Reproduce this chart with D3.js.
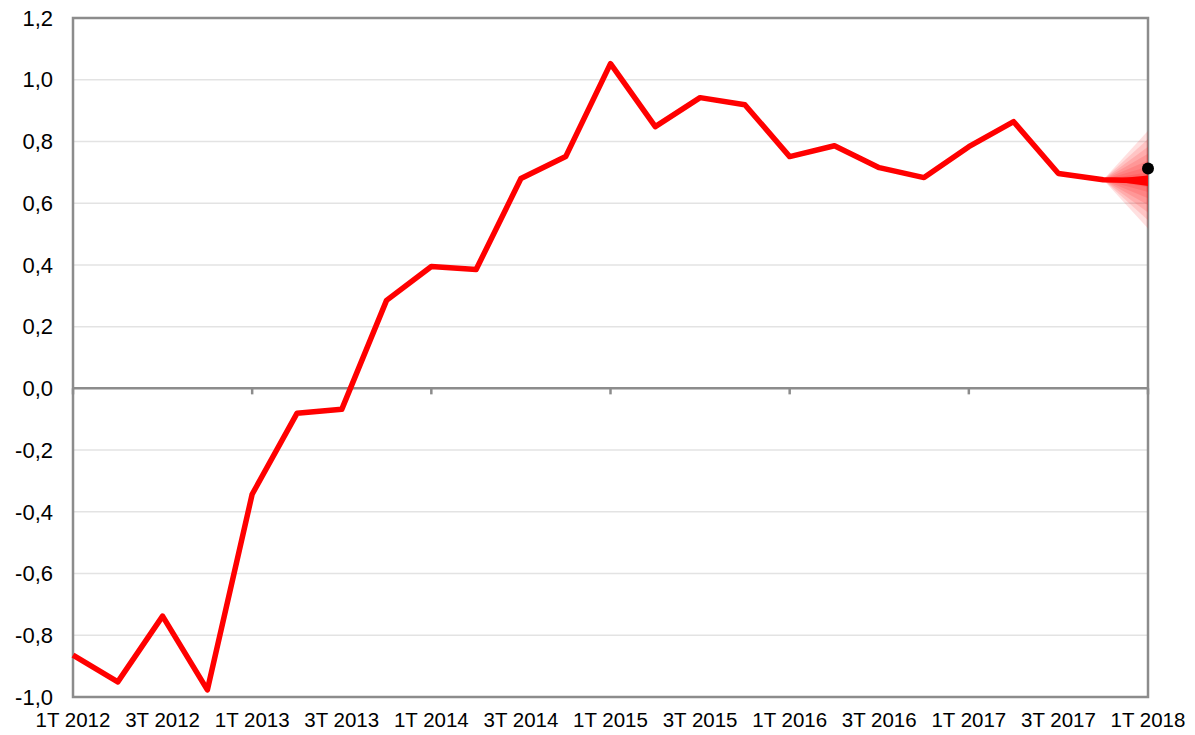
<!DOCTYPE html>
<html>
<head>
<meta charset="utf-8">
<script src="https://cdn.jsdelivr.net/npm/d3@7"></script>
<style>
  body { margin: 0; background: #fff; }
  text { font-family: "Liberation Sans", Arial, sans-serif; font-size: 20.5px; fill: #000; }
  .ylab text { font-size: 22px; }
</style>
</head>
<body>
<div class="my-graph"></div>
<script>
const quarters = ['1T 2012','2T 2012','3T 2012','4T 2012','1T 2013','2T 2013','3T 2013','4T 2013',
  '1T 2014','2T 2014','3T 2014','4T 2014','1T 2015','2T 2015','3T 2015','4T 2015',
  '1T 2016','2T 2016','3T 2016','4T 2016','1T 2017','2T 2017','3T 2017','4T 2017','1T 2018']
const values = [-0.864, -0.951, -0.738, -0.977, -0.343, -0.081, -0.068, 0.285,
  0.395, 0.385, 0.680, 0.751, 1.052, 0.848, 0.942, 0.919,
  0.751, 0.786, 0.715, 0.683, 0.783, 0.864, 0.696, 0.676, 0.673]
const yTicks = [-1.0, -0.8, -0.6, -0.4, -0.2, 0, 0.2, 0.4, 0.6, 0.8, 1.0, 1.2]
const xLabels = ['1T 2012','3T 2012','1T 2013','3T 2013','1T 2014','3T 2014','1T 2015','3T 2015','1T 2016','3T 2016','1T 2017','3T 2017','1T 2018']
// fan bands at the last quarter: [low, high]
const fanLow = [0.518, 0.545, 0.570, 0.594, 0.616, 0.636, 0.652, 0.664]
const fanHigh = [0.835, 0.808, 0.783, 0.760, 0.738, 0.718, 0.700, 0.684]
const centralBand = [0.656, 0.690]
const lastActual = 0.712

const width = 1195, height = 735
const margin = { top: 18, right: 47, bottom: 38, left: 73 }

const x = d3.scalePoint().domain(quarters).range([margin.left, width - margin.right])
const y = d3.scaleLinear().domain([-1.0, 1.2]).range([height - margin.bottom, margin.top])

const svg = d3.select('.my-graph').append('svg')
  .attr('width', width).attr('height', height)

// gridlines
svg.append('g').selectAll('line')
  .data(yTicks.filter(d => d !== 0 && d !== -1.0 && d !== 1.2))
  .enter().append('line')
  .attr('x1', margin.left).attr('x2', width - margin.right)
  .attr('y1', d => y(d)).attr('y2', d => y(d))
  .attr('stroke', '#e3e3e3').attr('stroke-width', 1.5)

// box
svg.append('rect')
  .attr('x', margin.left).attr('y', y(1.2))
  .attr('width', x(quarters[24]) - margin.left).attr('height', y(-1.0) - y(1.2))
  .attr('fill', 'none').attr('stroke', '#8c8c8c').attr('stroke-width', 2.5)

// zero axis with ticks
svg.append('line')
  .attr('x1', margin.left).attr('x2', width - margin.right)
  .attr('y1', y(0)).attr('y2', y(0))
  .attr('stroke', '#8c8c8c').attr('stroke-width', 2.5)
svg.append('g').selectAll('line')
  .data(quarters.filter((d, i) => i % 4 === 0))
  .enter().append('line')
  .attr('x1', d => x(d)).attr('x2', d => x(d))
  .attr('y1', y(0)).attr('y2', y(0) + 6)
  .attr('stroke', '#8c8c8c').attr('stroke-width', 2.5)

// y labels
svg.append('g').attr('class', 'ylab').selectAll('text')
  .data(yTicks).enter().append('text')
  .attr('x', 53).attr('y', d => y(d)).attr('dy', '0.35em')
  .attr('text-anchor', 'end')
  .text(d => d3.format('.1f')(d).replace('.', ',').replace('−', '-'))

// x labels
svg.append('g').selectAll('text')
  .data(xLabels).enter().append('text')
  .attr('x', d => x(d)).attr('y', 727)
  .attr('text-anchor', 'middle')
  .text(d => d)

// fan
const x0 = x(quarters[23]), x1 = x(quarters[24])
fanLow.forEach((lo, i) => {
  svg.append('path')
    .attr('d', `M${x0},${y(values[23])}L${x1},${y(fanHigh[i])}L${x1},${y(lo)}Z`)
    .attr('fill', 'red').attr('fill-opacity', 0.12)
})

// line
const line = d3.line().x((d, i) => x(quarters[i])).y(d => y(d))
svg.append('path')
  .datum(values)
  .attr('d', line)
  .attr('fill', 'none').attr('stroke', 'red').attr('stroke-width', 5.5)
  .attr('stroke-linejoin', 'round')

// central fan band
svg.append('path')
  .attr('d', `M${x0},${y(values[23])}L${x1},${y(centralBand[1])}L${x1},${y(centralBand[0])}Z`)
  .attr('fill', 'red')

// actual dot
svg.append('circle')
  .attr('cx', x1).attr('cy', y(lastActual)).attr('r', 6)
  .attr('fill', '#000')
</script>
</body>
</html>
